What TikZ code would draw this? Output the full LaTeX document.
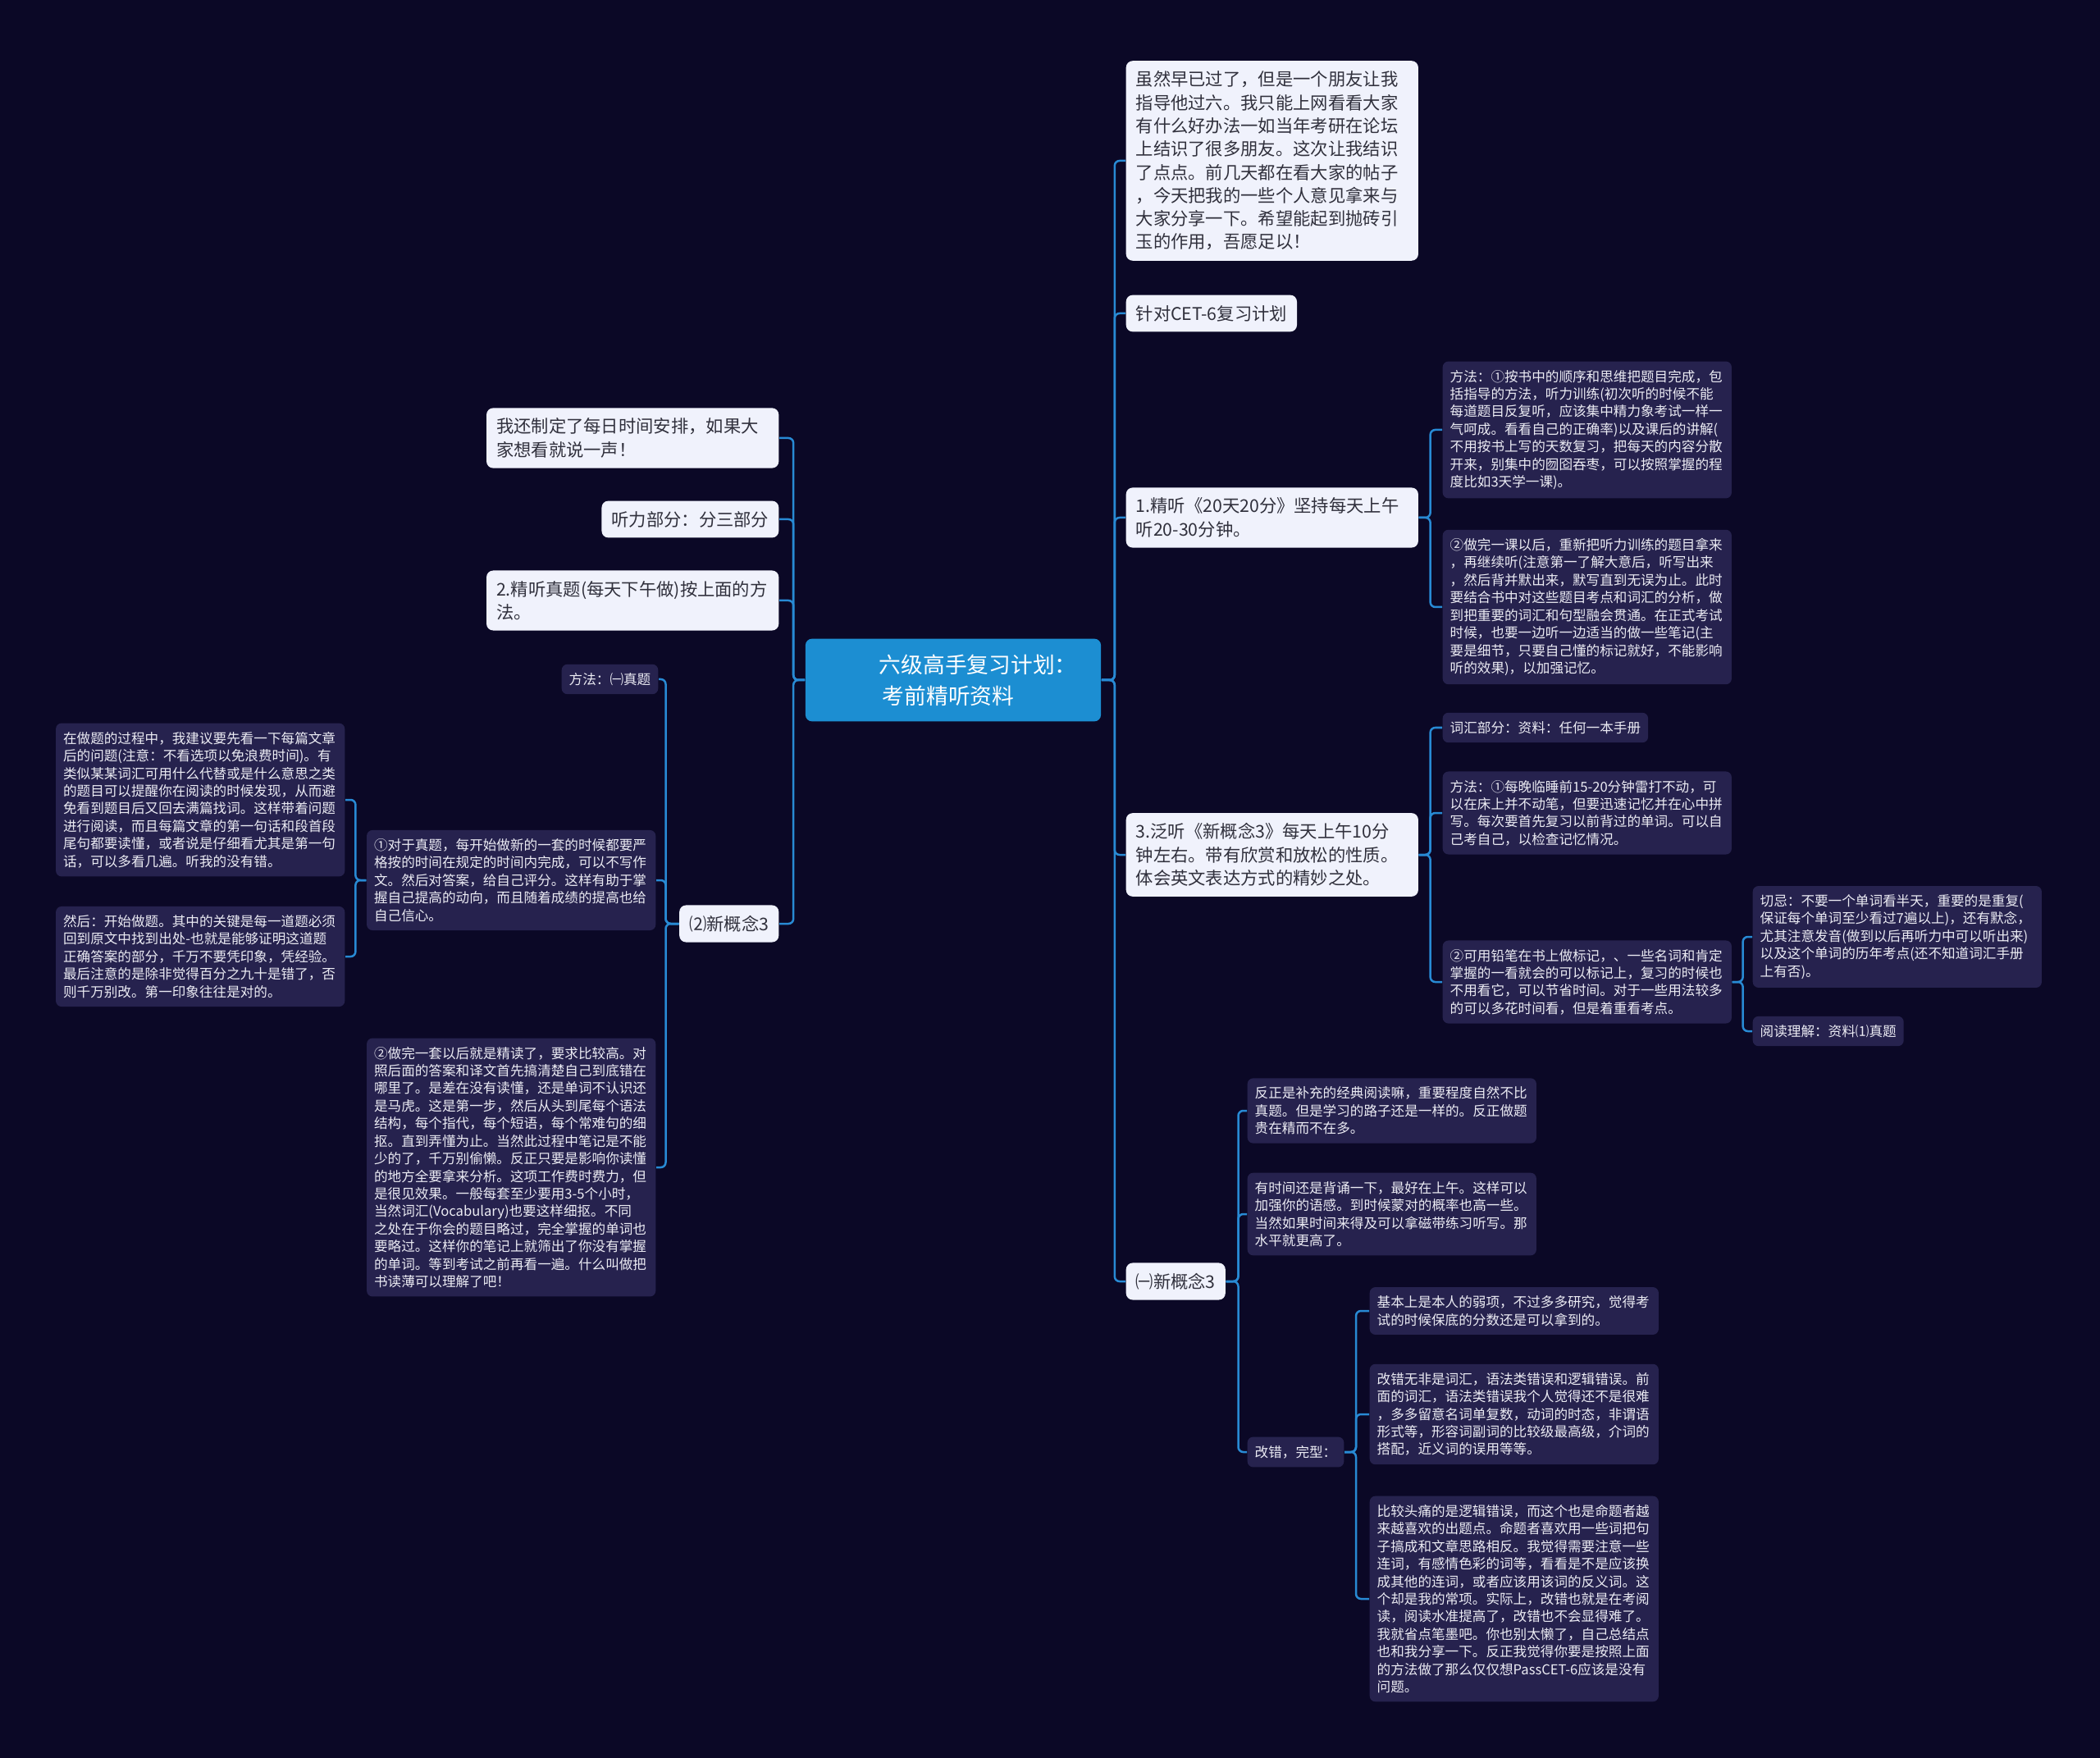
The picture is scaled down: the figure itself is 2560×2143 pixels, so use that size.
\documentclass[tikz,border=0pt]{standalone}
\usepackage{fontspec}
\newfontfamily\cjk{Noto Sans CJK SC}
\usepackage{xcolor}
\usepackage{tikz}
\usetikzlibrary{positioning}

\definecolor{bgnavy}{RGB}{11,8,38}
\definecolor{rootblue}{RGB}{28,142,210}
\definecolor{linkblue}{RGB}{40,138,212}
\definecolor{paper}{RGB}{240,242,252}
\definecolor{ink}{RGB}{48,48,60}
\definecolor{slate}{RGB}{38,34,78}
\definecolor{chalk}{RGB}{236,236,244}

\begin{document}
\begin{tikzpicture}[
    x=0.01cm, y=-0.01cm,
    boxbase/.style={rounded corners=0.08cm, align=left, inner xsep=0.12cm},
    topic/.style={boxbase, fill=paper, text=ink, inner ysep=0.125cm,
                  font=\cjk\fontsize{6.06pt}{8.05pt}\selectfont},
    wide/.style={text width=3.32cm},
    note/.style={boxbase, fill=slate, text=chalk, inner xsep=0.09cm,
                 inner ysep=0.105cm, rounded corners=0.07cm,
                 font=\cjk\fontsize{4.72pt}{6.09pt}\selectfont},
    narrow/.style={text width=3.34cm},
    rootbox/.style={fill=rootblue, text=white, rounded corners=0.08cm,
                    align=left, text width=3.3cm, inner xsep=0.15cm,
                    inner ysep=0.19cm, font=\cjk\fontsize{7.6pt}{10.8pt}\selectfont},
    link/.style={draw=linkblue, line width=0.025cm, rounded corners=0.06cm},
]
\fill[bgnavy] (0,0) rectangle (2560,2143);
\useasboundingbox (0,0) rectangle (2560,2143);

% centre
\node[rootbox] (root) at (1162,829)
  {\hspace*{0.75cm}六级高手复习计划：\\\hspace*{0.79cm}考前精听资料};

% right branch
\node[topic, wide, anchor=west] (intro) at (1372,196)
  {虽然早已过了，但是一个朋友让我\\指导他过六。我只能上网看看大家\\有什么好办法一如当年考研在论坛\\上结识了很多朋友。这次让我结识\\了点点。前几天都在看大家的帖子\\，今天把我的一些个人意见拿来与\\大家分享一下。希望能起到抛砖引\\玉的作用，吾愿足以！};
\node[topic, anchor=west] (plan) at (1372,382) {针对CET-6复习计划};
\node[topic, wide, anchor=west] (listen) at (1372,631)
  {1.精听《20天20分》坚持每天上午\\听20-30分钟。};
\node[note, narrow, anchor=west] (listenA) at (1758,524)
  {方法：①按书中的顺序和思维把题目完成，包\\括指导的方法，听力训练(初次听的时候不能\\每道题目反复听，应该集中精力象考试一样一\\气呵成。看看自己的正确率)以及课后的讲解(\\不用按书上写的天数复习，把每天的内容分散\\开来，别集中的囫囵吞枣，可以按照掌握的程\\度比如3天学一课)。};
\node[note, narrow, anchor=west] (listenB) at (1758,740)
  {②做完一课以后，重新把听力训练的题目拿来\\，再继续听(注意第一了解大意后，听写出来\\，然后背并默出来，默写直到无误为止。此时\\要结合书中对这些题目考点和词汇的分析，做\\到把重要的词汇和句型融会贯通。在正式考试\\时候，也要一边听一边适当的做一些笔记(主\\要是细节，只要自己懂的标记就好，不能影响\\听的效果)，以加强记忆。};
\node[topic, wide, anchor=west] (nce) at (1372,1042)
  {3.泛听《新概念3》每天上午10分\\钟左右。带有欣赏和放松的性质。\\体会英文表达方式的精妙之处。};
\node[note, anchor=west] (vocab) at (1758,887) {词汇部分：资料：任何一本手册};
\node[note, narrow, anchor=west] (vocabA) at (1758,991)
  {方法：①每晚临睡前15-20分钟雷打不动，可\\以在床上并不动笔，但要迅速记忆并在心中拼\\写。每次要首先复习以前背过的单词。可以自\\己考自己，以检查记忆情况。};
\node[note, narrow, anchor=west] (vocabB) at (1758,1197)
  {②可用铅笔在书上做标记，、一些名词和肯定\\掌握的一看就会的可以标记上，复习的时候也\\不用看它，可以节省时间。对于一些用法较多\\的可以多花时间看，但是着重看考点。};
\node[note, narrow, anchor=west] (taboo) at (2136,1142)
  {切忌：不要一个单词看半天，重要的是重复(\\保证每个单词至少看过7遍以上)，还有默念，\\尤其注意发音(做到以后再听力中可以听出来)\\以及这个单词的历年考点(还不知道词汇手册\\上有否)。};
\node[note, anchor=west] (reading) at (2136,1257) {阅读理解：资料⑴真题};
\node[topic, anchor=west] (nceOne) at (1372,1562) {㈠新概念3};
\node[note, narrow, anchor=west] (extra) at (1520,1354)
  {反正是补充的经典阅读嘛，重要程度自然不比\\真题。但是学习的路子还是一样的。反正做题\\贵在精而不在多。};
\node[note, narrow, anchor=west] (recite) at (1520,1480)
  {有时间还是背诵一下，最好在上午。这样可以\\加强你的语感。到时候蒙对的概率也高一些。\\当然如果时间来得及可以拿磁带练习听写。那\\水平就更高了。};
\node[note, anchor=west] (cloze) at (1520,1770) {改错，完型：};
\node[note, narrow, anchor=west] (weak) at (1669,1598)
  {基本上是本人的弱项，不过多多研究，觉得考\\试的时候保底的分数还是可以拿到的。};
\node[note, narrow, anchor=west] (errors) at (1669,1724)
  {改错无非是词汇，语法类错误和逻辑错误。前\\面的词汇，语法类错误我个人觉得还不是很难\\，多多留意名词单复数，动词的时态，非谓语\\形式等，形容词副词的比较级最高级，介词的\\搭配，近义词的误用等等。};
\node[note, narrow, anchor=west] (logic) at (1669,1949)
  {比较头痛的是逻辑错误，而这个也是命题者越\\来越喜欢的出题点。命题者喜欢用一些词把句\\子搞成和文章思路相反。我觉得需要注意一些\\连词，有感情色彩的词等，看看是不是应该换\\成其他的连词，或者应该用该词的反义词。这\\个却是我的常项。实际上，改错也就是在考阅\\读，阅读水准提高了，改错也不会显得难了。\\我就省点笔墨吧。你也别太懒了，自己总结点\\也和我分享一下。反正我觉得你要是按照上面\\的方法做了那么仅仅想PassCET-6应该是没有\\问题。};

% left branch
\node[topic, wide, anchor=east] (daily) at (950,534)
  {我还制定了每日时间安排，如果大\\家想看就说一声！};
\node[topic, anchor=east] (parts) at (950,633) {听力部分：分三部分};
\node[topic, wide, anchor=east] (intensive) at (950,732)
  {2.精听真题(每天下午做)按上面的方\\法。};
\node[topic, anchor=east] (nceTwo) at (950,1126) {⑵新概念3};
\node[note, anchor=east] (method) at (803,828) {方法：㈠真题};
\node[note, narrow, anchor=east] (exam) at (800,1073)
  {①对于真题，每开始做新的一套的时候都要严\\格按的时间在规定的时间内完成，可以不写作\\文。然后对答案，给自己评分。这样有助于掌\\握自己提高的动向，而且随着成绩的提高也给\\自己信心。};
\node[note, narrow, anchor=east] (preview) at (421,975)
  {在做题的过程中，我建议要先看一下每篇文章\\后的问题(注意：不看选项以免浪费时间)。有\\类似某某词汇可用什么代替或是什么意思之类\\的题目可以提醒你在阅读的时候发现，从而避\\免看到题目后又回去满篇找词。这样带着问题\\进行阅读，而且每篇文章的第一句话和段首段\\尾句都要读懂，或者说是仔细看尤其是第一句\\话，可以多看几遍。听我的没有错。};
\node[note, narrow, anchor=east] (answer) at (421,1166)
  {然后：开始做题。其中的关键是每一道题必须\\回到原文中找到出处-也就是能够证明这道题\\正确答案的部分，千万不要凭印象，凭经验。\\最后注意的是除非觉得百分之九十是错了，否\\则千万别改。第一印象往往是对的。};
\node[note, narrow, anchor=east] (review) at (800,1423)
  {②做完一套以后就是精读了，要求比较高。对\\照后面的答案和译文首先搞清楚自己到底错在\\哪里了。是差在没有读懂，还是单词不认识还\\是马虎。这是第一步，然后从头到尾每个语法\\结构，每个指代，每个短语，每个常难句的细\\抠。直到弄懂为止。当然此过程中笔记是不能\\少的了，千万别偷懒。反正只要是影响你读懂\\的地方全要拿来分析。这项工作费时费力，但\\是很见效果。一般每套至少要用3-5个小时，\\当然词汇(Vocabulary)也要这样细抠。不同\\之处在于你会的题目略过，完全掌握的单词也\\要略过。这样你的笔记上就筛出了你没有掌握\\的单词。等到考试之前再看一遍。什么叫做把\\书读薄可以理解了吧！};

% connectors
\foreach \c in {intro,plan,listen,nce,nceOne}
  \draw[link] (root.east) -- ++(16,0) |- (\c.west);
\foreach \c in {daily,parts,intensive,nceTwo}
  \draw[link] (root.west) -- ++(-14,0) |- (\c.east);
\foreach \c in {listenA,listenB}
  \draw[link] (listen.east) -- ++(14,0) |- (\c.west);
\foreach \c in {vocab,vocabA,vocabB}
  \draw[link] (nce.east) -- ++(14,0) |- (\c.west);
\foreach \c in {taboo,reading}
  \draw[link] (vocabB.east) -- ++(13,0) |- (\c.west);
\foreach \c in {extra,recite,cloze}
  \draw[link] (nceOne.east) -- ++(15,0) |- (\c.west);
\foreach \c in {weak,errors,logic}
  \draw[link] (cloze.east) -- ++(14,0) |- (\c.west);
\foreach \c in {method,exam,review}
  \draw[link] (nceTwo.west) -- ++(-16,0) |- (\c.east);
\foreach \c in {preview,answer}
  \draw[link] (exam.west) -- ++(-13,0) |- (\c.east);
\end{tikzpicture}
\end{document}
